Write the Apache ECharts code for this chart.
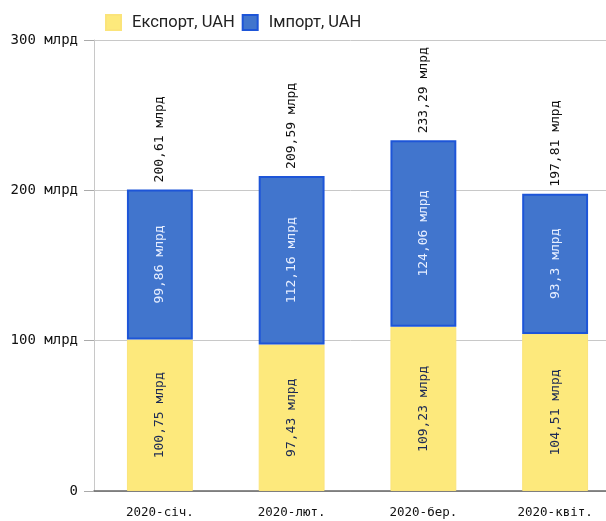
<!DOCTYPE html>
<html>
<head>
<meta charset="utf-8">
<script src="https://cdn.jsdelivr.net/npm/echarts@6/dist/echarts.min.js"></script>
<style>
  html, body { margin: 0; padding: 0; background: #fff; }
  #chart { width: 606px; height: 521px; }
</style>
</head>
<body>
<div id="chart"></div>
<script>
// місяці
const months = ['2020-січ.', '2020-лют.', '2020-бер.', '2020-квіт.']
// експорт та імпорт, млрд грн
const exportVals = [100.75, 97.43, 109.23, 104.51]
const importVals = [99.86, 112.16, 124.06, 93.3]
const totals = [200.61, 209.59, 233.29, 197.81]
const yTicks = [0, 100, 200, 300]

const mono = '"DejaVu Sans Mono", monospace'
const fmt = v => String(v).replace('.', ',') + ' млрд'

const chart = echarts.init(document.getElementById('chart'))

const option = {
  animation: false,
  legend: {
    left: 100,
    top: 9,
    itemWidth: 15,
    itemHeight: 15,
    itemGap: 7,
    icon: 'rect',
    textStyle: { fontFamily: 'Roboto', fontSize: 16.5, color: '#222', padding: [0, 0, 0, 6] },
    data: ['Експорт, UAH', 'Імпорт, UAH']
  },
  grid: {
    left: 94,
    top: 40,
    width: 527,
    height: 451,
    outerBoundsMode: 'none'
  },
  xAxis: {
    type: 'category',
    data: months,
    axisLine: { lineStyle: { color: '#666', width: 1.5 } },
    axisTick: { show: false },
    axisLabel: { fontFamily: mono, fontSize: 12.5, color: '#111', margin: 15 }
  },
  yAxis: {
    type: 'value',
    min: yTicks[0],
    max: yTicks[yTicks.length - 1],
    interval: 100,
    axisLine: { show: true, lineStyle: { color: '#c8c8c8' } },
    axisTick: { show: true, length: 10, lineStyle: { color: '#aaa' } },
    splitLine: { lineStyle: { color: '#c8c8c8' } },
    axisLabel: {
      fontFamily: mono,
      fontSize: 14,
      color: '#111',
      margin: 16,
      formatter: v => v === 0 ? '0' : v + ' млрд'
    }
  },
  series: [
    {
      name: 'Експорт, UAH',
      type: 'bar',
      stack: 'total',
      barWidth: '50%',
      data: exportVals,
      itemStyle: { color: '#fde97c', borderColor: '#fbe47a', borderWidth: 1 },
      label: {
        show: true,
        position: 'inside',
        rotate: 90,
        fontFamily: mono,
        fontSize: 13,
        color: '#1c2a55',
        formatter: p => fmt(p.value)
      }
    },
    {
      name: 'Імпорт, UAH',
      type: 'bar',
      stack: 'total',
      data: importVals,
      itemStyle: { color: '#4175cd', borderColor: '#1d55d8', borderWidth: 2 },
      label: {
        show: true,
        position: 'inside',
        rotate: 90,
        fontFamily: mono,
        fontSize: 13,
        color: '#e6eeff',
        formatter: p => fmt(p.value)
      }
    },
    {
      name: 'Імпорт, UAH',
      type: 'bar',
      stack: 'total',
      data: totals.map(() => 0),
      itemStyle: { color: 'transparent' },
      label: {
        show: true,
        position: 'top',
        rotate: 90,
        align: 'left',
        verticalAlign: 'middle',
        distance: 7,
        fontFamily: mono,
        fontSize: 13,
        color: '#111',
        formatter: p => fmt(totals[p.dataIndex])
      },
      tooltip: { show: false }
    }
  ]
}

chart.setOption(option)
</script>
</body>
</html>
